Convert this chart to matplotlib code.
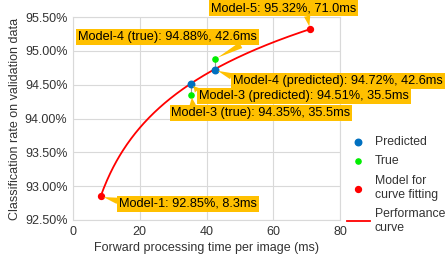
import numpy as np
import matplotlib.pyplot as plt
from matplotlib.ticker import FuncFormatter

plt.rcParams['font.family'] = ['Liberation Sans', 'DejaVu Sans']

# measured models
pred_t = [35.5, 42.6]
pred_acc = [94.51, 94.72]
true_t = [35.5, 42.6]
true_acc = [94.35, 94.88]
fit_t = [8.3, 71.0]
fit_acc = [92.85, 95.32]

labels = {
    'm5': 'Model-5: 95.32%, 71.0ms',
    'm4t': 'Model-4 (true): 94.88%, 42.6ms',
    'm4p': 'Model-4 (predicted): 94.72%, 42.6ms',
    'm3p': 'Model-3 (predicted): 94.51%, 35.5ms',
    'm3t': 'Model-3 (true): 94.35%, 35.5ms',
    'm1': 'Model-1: 92.85%, 8.3ms',
}

# performance curve: log fit through the two fitting models
a, b = np.polyfit(np.log(fit_t), fit_acc, 1)
xc = np.linspace(fit_t[0], fit_t[1], 200)
yc = a*np.log(xc) + b

fig = plt.figure(figsize=(4.47, 2.61), dpi=100)
ax = fig.add_axes([73/447, 1-220/261, 267/447, 203/261])

ax.plot(xc, yc, color='#FF0000', lw=1.3, label='Performance\ncurve', zorder=3)
for i in range(len(pred_t)):
    ax.plot([pred_t[i], true_t[i]], [pred_acc[i], true_acc[i]], color='#999999', lw=0.8, zorder=2)
ax.scatter(pred_t, pred_acc, s=22, color='#0070C0', label='Predicted', zorder=4)
ax.scatter(true_t, true_acc, s=14, color='#00EE00', label='True', zorder=4)
ax.scatter(fit_t, fit_acc, s=18, color='#FF0000', label='Model for\ncurve fitting', zorder=4)

ax.set_xlim(0, 80)
ax.set_ylim(92.5, 95.5)
ax.set_xticks([0, 20, 40, 60, 80])
ax.set_yticks(np.arange(92.5, 95.51, 0.5))
ax.yaxis.set_major_formatter(FuncFormatter(lambda v, p: '%.2f%%' % v))
ax.grid(True, color='#D9D9D9', lw=0.8)
ax.set_axisbelow(True)
for s in ax.spines.values():
    s.set_color('#D9D9D9')
ax.tick_params(length=0, labelsize=9, colors='#333333', pad=4)
ax.set_xlabel('Forward processing time per image (ms)', fontsize=9, color='#333333', labelpad=3)
ax.set_ylabel('Classification rate on validation data', fontsize=9, color='#333333', labelpad=3)

box = dict(boxstyle='square,pad=0.15', fc='#FFC000', ec='none')
def callout(txt, xy, xytext, rel):
    ax.annotate(txt, xy=xy, xytext=xytext, textcoords='data', fontsize=9.2,
                ha='left', va='center', bbox=box, annotation_clip=False, zorder=5,
                arrowprops=dict(arrowstyle='wedge,tail_width=0.5,shrink_factor=0.5', fc='#FFC000',
                                ec='none', relpos=rel, shrinkA=0, shrinkB=2))

callout(labels['m5'], (fit_t[1], fit_acc[1]), (41.3, 95.63), (0.66, 0))
callout(labels['m4t'], (true_t[1], true_acc[1]), (1.5, 95.20), (0.93, 0))
callout(labels['m4p'], (pred_t[1], pred_acc[1]), (48.0, 94.56), (0, 0.8))
callout(labels['m3p'], (pred_t[0], pred_acc[0]), (37.8, 94.33), (0, 0.8))
callout(labels['m3t'], (true_t[0], true_acc[0]), (29.5, 94.08), (0.12, 1))
callout(labels['m1'], (fit_t[0], fit_acc[0]), (13.9, 92.74), (0, 0.7))

h, l = ax.get_legend_handles_labels()
order = [1, 2, 3, 0]
fig.legend([h[i] for i in order], [l[i] for i in order], loc='upper left',
           bbox_to_anchor=(341/447, 1-130/261), frameon=False, fontsize=8.8,
           labelspacing=0.6, handlelength=1.85, handletextpad=0.4, borderpad=0,
           labelcolor='#333333')

fig.savefig('out.png', dpi=100)
